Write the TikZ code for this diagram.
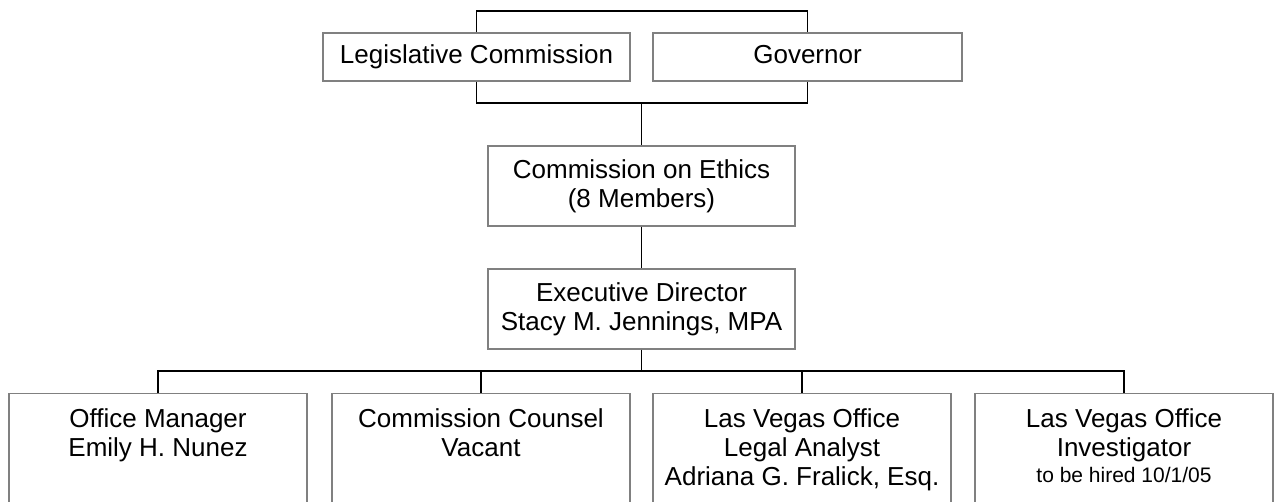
\documentclass[tikz,border=0pt]{standalone}
\usepackage{fontspec}
\setmainfont{Liberation Sans}
\usetikzlibrary{positioning}

\definecolor{boxgray}{HTML}{808080}
\newcommand{\chartfont}{\fontsize{26}{29}\selectfont}
\newcommand{\notefont}{\fontsize{21}{24}\selectfont}

\begin{document}
\begin{tikzpicture}[x=1pt,y=-1pt]
  \tikzset{
    office/.style={draw=boxgray,line width=1.2pt,fill=white,align=center,inner sep=0pt,font=\chartfont},
    oneline/.style={office,minimum height=48,text height=19,text depth=5.5},
    staff/.style={office,anchor=north,minimum width=298,minimum height=140},
    stafftext/.style={align=center,inner sep=0pt,font=\chartfont,anchor=north,yshift=-15.7},
    link/.style={line width=1.4pt,draw=black}
  }
  \useasboundingbox (0,0) rectangle (1275,502);

  % top of the chart
  \node[oneline,minimum width=307] (leg) at (476.5,57) {Legislative Commission};
  \node[oneline,minimum width=309] (gov) at (807.5,57) {Governor};

  \node[office,minimum width=307,minimum height=80] (eth) at (641.5,186) {Commission on Ethics\\(8 Members)};
  \node[office,minimum width=307,minimum height=80] (exec) at (641.5,309) {Executive Director\\Stacy M. Jennings, MPA};

  % staff row, boxes run off the bottom
  \node[staff] (om) at (158,393) {};
  \node[staff] (cc) at (481,393) {};
  \node[staff] (lva) at (802,393) {};
  \node[staff] (lvi) at (1124,393) {};

  \node[stafftext] (omt) at (om.north) {Office Manager\\Emily H. Nunez};
  \node[stafftext] (cct) at (cc.north) {Commission Counsel\\Vacant};
  \node[stafftext] (lvat) at (lva.north) {Las Vegas Office\\Legal Analyst\\Adriana G. Fralick, Esq.};
  \node[stafftext] (lvit) at (lvi.north) {Las Vegas Office\\Investigator\\[-3pt]{\notefont to be hired 10/1/05}};

  % connectors
  \coordinate (topbar) at (641.5,11);
  \coordinate (join) at (641.5,103);
  \coordinate (staffbar) at (641.5,371);

  \draw[link] (leg.north) |- (topbar) -| (gov.north);
  \draw[link] (leg.south) |- (join) -| (gov.south);
  \draw[link] (join) -- (eth.north);
  \draw[link] (eth.south) -- (exec.north);
  \draw[link] (exec.south) -- (staffbar);
  \foreach \n in {om,cc,lva,lvi}
    \draw[link] (staffbar) -| (\n.north);

\end{tikzpicture}
\end{document}
